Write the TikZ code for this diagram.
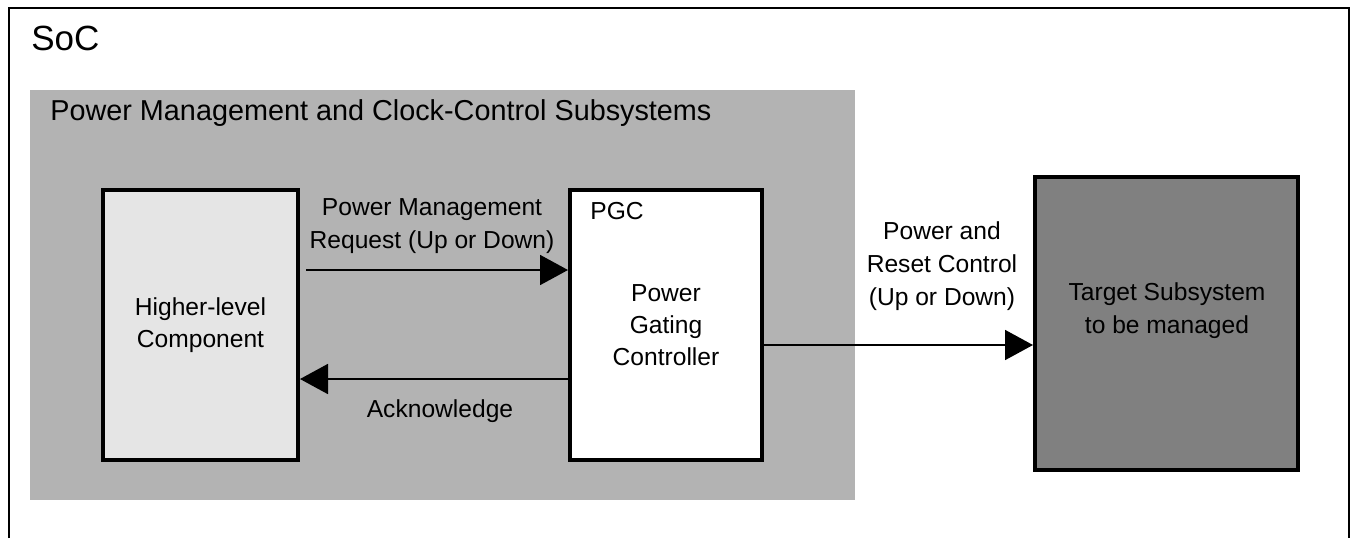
\documentclass[tikz,border=0pt]{standalone}
\usepackage{fontspec}
\setmainfont{Liberation Sans}
\usepackage{tikz}
\usetikzlibrary{arrows.meta, positioning}

\definecolor{pmcgray}{HTML}{B3B3B3}
\definecolor{hlgray}{HTML}{E5E5E5}
\definecolor{tgtgray}{HTML}{808080}

\begin{document}
\begin{tikzpicture}[x=0.5pt, y=-0.5pt,
                block/.style={rectangle, draw, line width=2pt, inner sep=0pt, align=center, font=\fontsize{12.3}{16}\selectfont},
                region/.style={rectangle, fill=pmcgray, inner sep=0pt},
                lbl/.style={inner sep=0pt, align=center, font=\fontsize{12.3}{16.5}\selectfont},
                sig/.style={line width=0.9pt, -{Triangle[length=14pt, width=15pt]}}
            ]
                \useasboundingbox (0,0) rectangle (1351,538);

                % SoC frame
                \draw[line width=1pt] (9,538) |- (1349,8) -- (1349,538);
                \node[inner sep=0pt, anchor=base west, font=\fontsize{17.5}{22}\selectfont] (soc) at (31,50) {SoC};

                % Power management region
                \node[region, minimum width=412.5pt, minimum height=205pt] (pmc) at (442.5,295) {};
                \node[inner sep=0pt, anchor=base west, font=\fontsize{14.4}{18}\selectfont] (pmctitle) at (50,120) {Power Management and Clock-Control Subsystems};

                % Nodes
                \node[block, fill=hlgray, minimum width=97.5pt, minimum height=135pt] (hl) at (200.5,325) {Higher-level\\Component};
                \node[block, fill=white, minimum width=96pt, minimum height=135pt] (pgc) at (666,325) {Power\\Gating\\Controller};
                \node[block, fill=tgtgray, minimum width=131.5pt, minimum height=146.5pt] (tgt) at (1166.5,323.5) {};
                \node[lbl] (tgttxt) at (1167,311) {Target Subsystem\\to be managed};
                \node[lbl, anchor=west] (pgctxt) at (590,211) {PGC};

                % Paths
                \draw[sig, shorten <=3pt] ([yshift=27.5pt]hl.east) -- ([yshift=27.5pt]hl.east -| pgc.west);
                \draw[sig] ([yshift=-27pt]pgc.west) -- ([yshift=-27pt]pgc.west -| hl.east);
                \draw[sig] ([yshift=-10pt]pgc.east) -- ([yshift=-10pt]pgc.east -| tgt.west);

                % Labels
                \node[lbl] (reqtxt) at (432,226) {Power Management\\Request (Up or Down)};
                \node[lbl] (acktxt) at (440,411) {Acknowledge};
                \node[lbl] (pwrtxt) at (942,266) {Power and\\Reset Control\\(Up or Down)};
            \end{tikzpicture}
\end{document}
